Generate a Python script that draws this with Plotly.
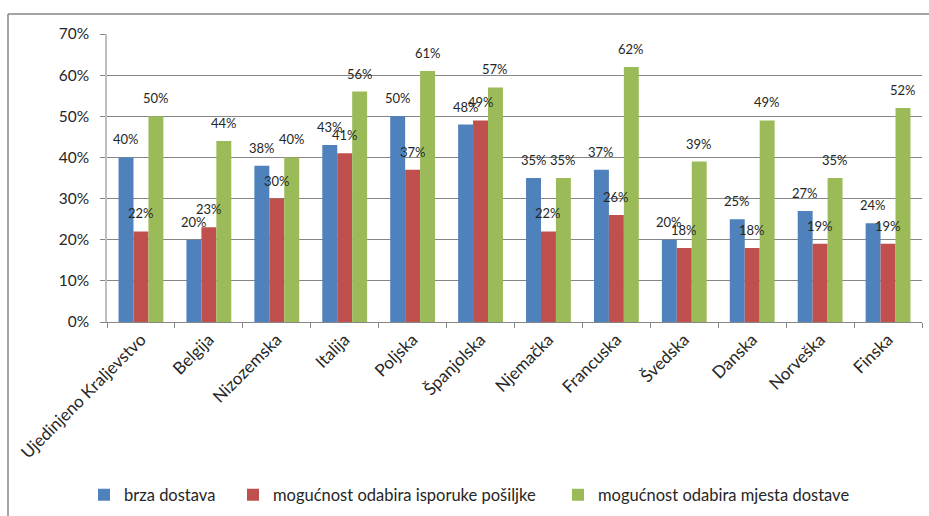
import plotly.graph_objects as go

categories = ["Ujedinjeno Kraljevstvo", "Belgija", "Nizozemska", "Italija", "Poljska",
              "Španjolska", "Njemačka", "Francuska", "Švedska", "Danska", "Norveška", "Finska"]
brza_dostava = [40, 20, 38, 43, 50, 48, 35, 37, 20, 25, 27, 24]
odabir_isporuke = [22, 23, 30, 41, 37, 49, 22, 26, 18, 18, 19, 19]
odabir_mjesta = [50, 44, 40, 56, 61, 57, 35, 62, 39, 49, 35, 52]
series_names = ["brza dostava", "mogućnost odabira isporuke pošiljke", "mogućnost odabira mjesta dostave"]
series_values = [brza_dostava, odabir_isporuke, odabir_mjesta]
colors = ["#4F81BD", "#C0504D", "#9BBB59"]
y_ticks = [0, 10, 20, 30, 40, 50, 60, 70]
y_tick_labels = [f"{t}%" for t in y_ticks]

W, H = 929, 516
ML, MR, MT, MB = 107, 7, 34, 194
FONT = "Lato"
TXT = "#262626"
BARGAP = 0.34
legend_ids = ["legend", "legend2", "legend3"]
legend_text_x = [124, 273, 598]

fig = go.Figure()
for name, vals, col, lid in zip(series_names, series_values, colors, legend_ids):
    fig.add_trace(go.Bar(x=categories, y=vals, name=name, marker_color=col,
                         marker_line_width=0, legend=lid))

plot_w = W - ML - MR
plot_h = H - MT - MB
cat_px = plot_w / len(categories)
bar_px = cat_px * (1 - BARGAP) / len(series_values)

annotations = []
for i, vals in enumerate(series_values):
    for c, v in zip(categories, vals):
        annotations.append(dict(x=c, y=v, xref="x", yref="y", text=f"{v}%",
                                showarrow=False, yanchor="bottom",
                                xshift=(i - 1) * bar_px, yshift=8,
                                font=dict(family=FONT, size=13, color=TXT)))

x0 = (8 - ML) / plot_w
x1 = (W + 20 - ML) / plot_w
y_top = 1 + (MT - 14) / plot_h
y_bot = -(H + 20 - (H - MB)) / plot_h
shapes = [
    dict(type="line", xref="paper", yref="paper", x0=x0, x1=x1, y0=y_top, y1=y_top,
         line=dict(color="#868686", width=1.5)),
    dict(type="line", xref="paper", yref="paper", x0=x0, x1=x0, y0=y_top, y1=y_bot,
         line=dict(color="#868686", width=1.5)),
]

legend_common = dict(orientation="h", xanchor="left", y=1 - 495 / H, yanchor="middle",
                     xref="container", yref="container",
                     font=dict(family=FONT, size=16.5, color=TXT), itemwidth=30,
                     bgcolor="rgba(0,0,0,0)")
legends = {}
for lid, tx in zip(legend_ids, legend_text_x):
    legends[lid] = dict(legend_common, x=(tx - 40) / W)

fig.update_layout(
    width=W, height=H, autosize=False,
    margin=dict(l=ML, r=MR, t=MT, b=MB, autoexpand=False),
    paper_bgcolor="white", plot_bgcolor="white",
    barmode="group", bargap=BARGAP, bargroupgap=0,
    font=dict(family=FONT, size=14, color=TXT),
    annotations=annotations, shapes=shapes,
    showlegend=True,
    **legends,
)
fig.update_xaxes(type="category", showline=True, linecolor="#868686", linewidth=1,
                 ticks="outside", tickson="boundaries", ticklen=5, tickcolor="#868686",
                 tickangle=-45, tickfont=dict(family=FONT, size=17, color=TXT),
                 showgrid=False, automargin=False)
fig.update_yaxes(range=[0, 70], tickvals=y_ticks, ticktext=y_tick_labels, showline=True,
                 linecolor="#BFBFBF", linewidth=1.5, ticks="outside", ticklen=5,
                 tickcolor="#868686", showgrid=True, gridcolor="#868686", gridwidth=1,
                 tickfont=dict(family=FONT, size=15.5, color=TXT), ticklabelstandoff=8,
                 zeroline=False, automargin=False)

fig.write_html("out.html", config={"displayModeBar": False},
               post_script="document.body.style.margin='0';")
